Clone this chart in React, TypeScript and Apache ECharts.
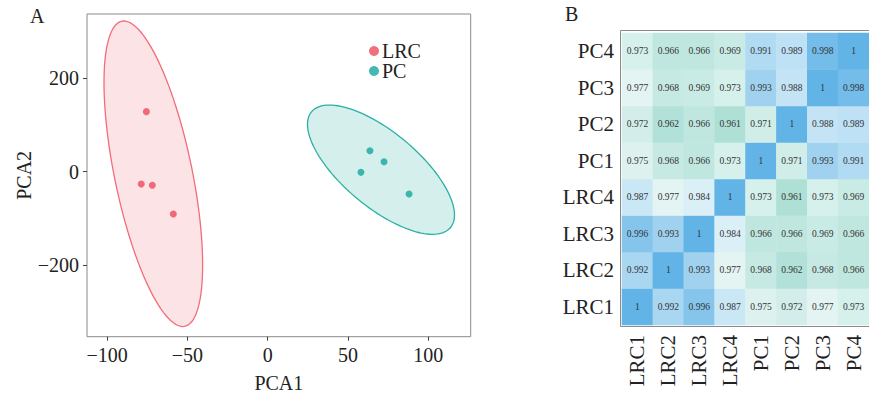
import React, { useEffect, useRef } from "react";
import * as echarts from "echarts";

const FONT = "'Liberation Serif', 'Times New Roman', serif";

// PCA scores
const lrcPoints: number[][] = [
  [-75.6, 128.6],
  [-78.8, -26.4],
  [-71.9, -29.2],
  [-58.8, -90.7],
];
const pcPoints: number[][] = [
  [63.7, 45.0],
  [72.5, 21.4],
  [58.1, -1.4],
  [88.1, -47.8],
];
const xTicks = [-100, -50, 0, 50, 100];
const yTicks = [-200, 0, 200];

// Correlation heatmap
const sampleLabels = ["LRC1", "LRC2", "LRC3", "LRC4", "PC1", "PC2", "PC3", "PC4"];
const corrLRC1 = [1, 0.992, 0.996, 0.987, 0.975, 0.972, 0.977, 0.973];
const corrLRC2 = [0.992, 1, 0.993, 0.977, 0.968, 0.962, 0.968, 0.966];
const corrLRC3 = [0.996, 0.993, 1, 0.984, 0.966, 0.966, 0.969, 0.966];
const corrLRC4 = [0.987, 0.977, 0.984, 1, 0.973, 0.961, 0.973, 0.969];
const corrPC1 = [0.975, 0.968, 0.966, 0.973, 1, 0.971, 0.993, 0.991];
const corrPC2 = [0.972, 0.962, 0.966, 0.961, 0.971, 1, 0.988, 0.989];
const corrPC3 = [0.977, 0.968, 0.969, 0.973, 0.993, 0.988, 1, 0.998];
const corrPC4 = [0.973, 0.966, 0.966, 0.969, 0.991, 0.989, 0.998, 1];
const corrRows = [corrLRC1, corrLRC2, corrLRC3, corrLRC4, corrPC1, corrPC2, corrPC3, corrPC4];

const RED = "#EE4A5C";
const TEAL = "#14A8A0";

function ellipsePoints(pts: number[][], k: number, n = 120): number[][] {
  const m = pts.length;
  const mx = pts.reduce((s, p) => s + p[0], 0) / m;
  const my = pts.reduce((s, p) => s + p[1], 0) / m;
  let sxx = 0, syy = 0, sxy = 0;
  pts.forEach((p) => {
    sxx += (p[0] - mx) ** 2;
    syy += (p[1] - my) ** 2;
    sxy += (p[0] - mx) * (p[1] - my);
  });
  sxx /= m - 1; syy /= m - 1; sxy /= m - 1;
  const a = Math.sqrt(sxx);
  const b = sxy / a;
  const c = Math.sqrt(Math.max(syy - b * b, 0));
  const out: number[][] = [];
  for (let i = 0; i < n; i++) {
    const t = (2 * Math.PI * i) / n;
    out.push([mx + k * a * Math.cos(t), my + k * (b * Math.cos(t) + c * Math.sin(t))]);
  }
  return out;
}

function ellipseSeries(name: string, pts: number[][], stroke: string, fill: string) {
  return {
    name,
    type: "custom",
    xAxisIndex: 0,
    yAxisIndex: 0,
    z: 1,
    silent: true,
    data: pts,
    renderItem: (params: any, api: any) => {
      if (params.dataIndex !== 0) return null;
      const poly = ellipsePoints(pts, 3.5).map((p) => api.coord(p));
      return {
        type: "polygon",
        shape: { points: poly },
        style: { fill, stroke, lineWidth: 1.3 },
      };
    },
  };
}

const fmtMinus = (v: number) => (v < 0 ? "\u2212" + Math.abs(v) : String(v));

export default function App() {
  const ref = useRef<HTMLDivElement>(null);
  useEffect(() => {
    if (!ref.current) return;
    const chart = echarts.init(ref.current, null, { renderer: "svg" });
    const heatData: any[] = [];
    corrRows.forEach((row, yi) => row.forEach((v, xi) => heatData.push([xi, yi, v])));

    chart.setOption({
      animation: false,
      backgroundColor: "#ffffff",
      textStyle: { fontFamily: FONT },
      graphic: [
        { type: "text", left: 30, top: 6, style: { text: "A", fontSize: 20, fontFamily: FONT, fill: "#222" } },
        { type: "text", left: 565, top: 4, style: { text: "B", fontSize: 20, fontFamily: FONT, fill: "#222" } },
        {
          type: "rect",
          shape: { x: 620.5, y: 30.5, width: 256, height: 296 },
          style: { fill: "none", stroke: "#8a8a8a", lineWidth: 1 },
          z: 100,
        },
      ],
      legend: {
        data: ["LRC", "PC"],
        orient: "vertical",
        left: 364,
        top: 36,
        icon: "circle",
        itemWidth: 10,
        itemHeight: 10,
        itemGap: 0,
        textStyle: { fontFamily: FONT, fontSize: 20, color: "#222", lineHeight: 19, padding: [0, 0, 0, -2] },
      },
      grid: [
        { left: 87, top: 14, width: 383.7, height: 322.7, show: true, borderColor: "#8a8a8a", borderWidth: 1 },
        { left: 622, top: 33, width: 250.4, height: 292 },
      ],
      xAxis: [
        {
          type: "value",
          gridIndex: 0,
          min: -112.6,
          max: 126.5,
          name: "PCA1",
          nameLocation: "middle",
          nameGap: 36,
          nameTextStyle: { fontFamily: FONT, fontSize: 20, color: "#222" },
          axisLine: { show: false, onZero: false },
          axisTick: { show: true, length: 4, lineStyle: { color: "#444" }, customValues: xTicks },
          axisLabel: {
            fontFamily: FONT, fontSize: 20, color: "#222", margin: 8,
            customValues: xTicks,
            formatter: fmtMinus,
          },
          splitLine: { show: false },
        },
        {
          type: "category",
          gridIndex: 1,
          data: sampleLabels,
          axisLine: { show: false },
          axisTick: { show: false },
          axisLabel: { rotate: 90, fontFamily: FONT, fontSize: 21, color: "#222", margin: 10 },
          splitArea: { show: false },
        },
      ],
      yAxis: [
        {
          type: "value",
          gridIndex: 0,
          min: -353.5,
          max: 337.8,
          name: "PCA2",
          nameLocation: "middle",
          nameGap: 52,
          nameTextStyle: { fontFamily: FONT, fontSize: 20, color: "#222" },
          axisLine: { show: false, onZero: false },
          axisTick: { show: true, length: 4, lineStyle: { color: "#444" }, customValues: yTicks },
          axisLabel: {
            fontFamily: FONT, fontSize: 20, color: "#222", margin: 8,
            customValues: yTicks,
            formatter: fmtMinus,
          },
          splitLine: { show: false },
        },
        {
          type: "category",
          gridIndex: 1,
          data: sampleLabels,
          axisLine: { show: false },
          axisTick: { show: false },
          axisLabel: { fontFamily: FONT, fontSize: 21, color: "#222", margin: 8 },
          splitArea: { show: false },
        },
      ],
      visualMap: {
        show: false,
        seriesIndex: 4,
        min: 0.961,
        max: 1,
        inRange: { color: ["#AEE0D6", "#CFEDE8", "#EEF8F8", "#B8DEF4", "#62B3E6"] },
      },
      series: [
        ellipseSeries("LRC ellipse", lrcPoints, "#F26C7A", "rgba(250,200,206,0.5)"),
        ellipseSeries("PC ellipse", pcPoints, "#2BB0A6", "rgba(150,215,208,0.4)"),
        {
          name: "LRC",
          type: "scatter",
          xAxisIndex: 0,
          yAxisIndex: 0,
          z: 3,
          symbolSize: 7,
          itemStyle: { color: RED },
          data: lrcPoints,
        },
        {
          name: "PC",
          type: "scatter",
          xAxisIndex: 0,
          yAxisIndex: 0,
          z: 3,
          symbolSize: 7,
          itemStyle: { color: TEAL },
          data: pcPoints,
        },
        {
          name: "corr",
          type: "heatmap",
          xAxisIndex: 1,
          yAxisIndex: 1,
          data: heatData,
          label: {
            show: true,
            fontFamily: FONT,
            fontSize: 9.5,
            color: "#333",
            formatter: (p: any) => String(p.value[2]),
          },
        },
      ],
    });
    return () => chart.dispose();
  }, []);
  return <div ref={ref} style={{ position: "absolute", left: 0, top: 0, width: 869, height: 402 }} />;
}
